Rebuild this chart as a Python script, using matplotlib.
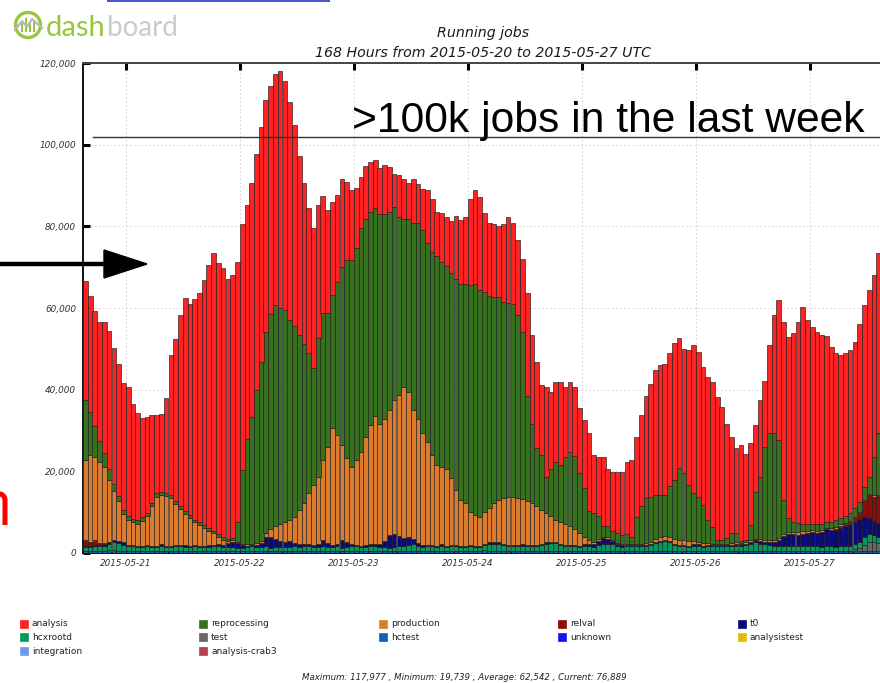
import matplotlib
matplotlib.use("Agg")
import matplotlib.pyplot as plt
import matplotlib.dates as mdates
from matplotlib.patches import Rectangle, Circle, Polygon, PathPatch
from matplotlib.path import Path
from matplotlib.ticker import MultipleLocator, FuncFormatter
from datetime import datetime, timedelta
import numpy as np

plt.rcParams["font.family"] = ["DejaVu Sans"]
plt.rcParams["font.style"] = "italic"

START = datetime(2015, 5, 20, 15)
HOURS = 168

# Hourly running jobs per activity, in thousands (one row of 24 values per line)
analysis = [
    29.2, 28.4, 28.3, 29.0, 32.0, 33.9, 33.3, 32.3, 31.2, 31.7, 28.0, 26.4, 24.2, 23.6, 21.5, 19.2, 19.0, 23.1, 34.3, 39.5, 46.7, 52.3, 51.9, 54.1,
    56.1, 59.9, 64.4, 68.0, 66.2, 65.7, 63.7, 64.4, 63.5, 60.2, 57.4, 57.3, 57.9, 57.6, 56.7, 55.9, 56.7, 57.877, 56.1, 53.5, 49.2, 43.8, 39.3, 35.7,
    34.4, 32.6, 28.7, 25.3, 22.8, 21.2, 21.4, 19.2, 17.2, 14.7, 12.5, 13.0, 12.2, 11.8, 11.4, 12.0, 11.0, 8.0, 10.3, 9.8, 8.8, 10.6, 9.6, 10.0,
    12.9, 12.8, 10.9, 11.9, 12.0, 12.8, 15.3, 15.7, 16.3, 21.0, 23.1, 22.8, 19.2, 17.9, 17.9, 17.4, 19.2, 20.9, 19.9, 18.5, 17.7, 25.2, 21.7, 21.2,
    17.1, 21.9, 19.0, 19.5, 20.4, 17.0, 17.1, 16.9, 15.9, 16.8, 18.9, 14.1, 14.5, 17.0, 13.9, 14.239, 15.1, 15.5, 17.7, 18.8, 19.8, 22.3, 25.0, 27.7,
    30.6, 31.8, 32.1, 32.5, 33.6, 31.9, 30.4, 33.1, 36.3, 35.5, 33.8, 35.1, 35.5, 34.9, 32.7, 28.0, 23.5, 20.6, 23.4, 21.0, 20.1, 16.3, 18.8, 16.2,
    21.6, 29.1, 34.2, 43.6, 44.3, 46.2, 49.3, 53.2, 50.0, 48.4, 47.2, 46.3, 45.5, 42.9, 40.9, 39.9, 39.9, 40.0, 40.7, 43.4, 44.6, 45.7, 44.5, 44.1,
]
reprocessing = [
    14.7, 10.5, 7.4, 5.3, 3.5, 2.5, 1.6, 1.2, 1.0, 1.0, 0.8, 0.8, 1.0, 0.8, 0.8, 0.8, 0.8, 0.8, 0.8, 0.8, 0.8, 0.7, 0.7, 0.7,
    0.7, 0.7, 0.7, 0.7, 0.7, 0.7, 0.6, 0.5, 5.0, 18.1, 25.7, 31.1, 37.5, 43.8, 49.4, 52.5, 54.1, 53.0, 51.8, 48.9, 46.9, 42.9, 39.0, 34.3,
    28.6, 33.9, 35.9, 32.7, 32.7, 37.5, 43.7, 48.5, 50.6, 51.8, 54.7, 53.2, 52.3, 50.9, 51.3, 50.3, 48.6, 47.3, 43.5, 41.3, 42.4, 45.9, 48.0, 49.8,
    48.7, 49.8, 51.2, 50.2, 49.6, 50.2, 51.8, 53.0, 53.8, 55.5, 56.6, 55.5, 54.0, 51.8, 50.4, 49.6, 48.0, 47.5, 47.2, 44.8, 41.0, 25.6, 19.4, 14.1,
    13.5, 8.9, 11.5, 14.4, 14.0, 16.6, 18.3, 17.9, 14.6, 11.8, 7.2, 7.2, 5.7, 2.7, 2.8, 2.3, 2.3, 2.1, 2.4, 1.7, 6.5, 9.2, 10.9, 11.0,
    10.8, 10.4, 10.1, 12.5, 14.4, 17.4, 16.3, 13.7, 11.6, 11.0, 9.4, 5.7, 4.1, 0.9, 0.9, 1.4, 2.6, 2.4, 0.5, 0.6, 3.8, 11.5, 15.3, 22.8,
    26.0, 26.0, 24.0, 8.4, 3.3, 2.5, 2.2, 1.7, 1.5, 1.4, 1.6, 1.5, 1.4, 1.5, 1.6, 1.5, 1.6, 1.8, 2.2, 2.5, 3.0, 4.3, 9.5, 15.1,
]
production = [
    19.5, 21.3, 20.4, 19.8, 18.5, 15.3, 12.1, 9.9, 6.9, 6.0, 5.7, 5.6, 6.1, 7.0, 9.8, 12.1, 12.1, 12.4, 11.6, 10.1, 8.8, 7.6, 6.7, 5.6,
    5.0, 4.4, 3.5, 2.8, 1.9, 1.3, 0.4, 0.4, 0.3, 0.3, 0.3, 0.3, 0.4, 0.6, 1.0, 2.1, 3.2, 4.1, 5.0, 5.2, 6.3, 8.4, 10.1, 12.5,
    14.6, 16.4, 19.6, 23.5, 28.6, 26.8, 23.3, 20.5, 18.9, 20.8, 23.0, 26.5, 29.2, 31.3, 29.4, 29.7, 30.7, 32.8, 34.5, 37.0, 35.7, 31.6, 30.2, 27.3,
    25.3, 22.0, 19.7, 19.0, 18.9, 16.4, 13.5, 11.3, 10.4, 8.1, 7.5, 7.1, 7.8, 8.5, 9.6, 10.4, 11.3, 11.9, 11.9, 11.5, 11.1, 10.9, 10.3, 9.6,
    8.3, 7.2, 6.2, 5.2, 5.3, 5.0, 4.6, 3.9, 3.1, 1.8, 1.0, 0.4, 0.4, 0.3, 0.3, 0.3, 0.3, 0.4, 0.3, 0.3, 0.3, 0.4, 0.5, 0.6,
    0.7, 0.8, 0.9, 1.0, 1.2, 1.3, 1.2, 1.1, 0.8, 0.7, 0.6, 0.5, 0.4, 0.3, 0.3, 0.3, 0.4, 0.5, 0.4, 0.3, 0.4, 0.4, 0.5, 0.5,
    0.5, 0.6, 0.6, 0.5, 0.5, 0.6, 0.7, 0.8, 0.6, 0.5, 0.6, 0.5, 0.4, 0.5, 0.4, 0.4, 0.3, 0.3, 0.3, 0.3, 0.3, 0.3, 0.3, 0.3,
]
relval = [1.6, 1.0, 1.2, 0.5, 0.3, 0.1] + [0.0] * 152 + [0.3, 0.5, 0.6, 0.8, 1.0, 1.5, 4.0, 5.5, 6.0, 6.5]
t0 = [
    0.2, 0.2, 0.3, 0.3, 0.4, 0.3, 0.4, 0.5, 0.6, 0.4, 0.3, 0.2, 0.2, 0.3, 0.3, 0.2, 0.3, 0.2, 0.3, 0.3, 0.4, 0.4, 0.3, 0.3,
    0.3, 0.3, 0.4, 0.4, 0.5, 0.6, 1.0, 1.4, 1.2, 0.6, 0.3, 0.3, 0.5, 1.0, 2.2, 2.6, 2.0, 1.6, 1.2, 1.5, 0.8, 0.6, 0.5, 0.5,
    0.6, 0.8, 1.5, 1.0, 0.5, 0.5, 1.8, 1.2, 0.5, 0.4, 0.4, 0.5, 0.5, 0.6, 0.8, 1.5, 3.0, 3.3, 2.6, 2.0, 1.8, 1.2, 0.8, 0.5,
    0.4, 0.4, 0.3, 0.3, 0.2, 0.3, 0.3, 0.2, 0.3, 0.3, 0.2, 0.3, 0.3, 0.4, 0.3, 0.3, 0.2, 0.3, 0.3, 0.2, 0.3, 0.3, 0.2, 0.3,
    0.3, 0.3, 0.3, 0.3, 0.3, 0.3, 0.3, 0.3, 0.3, 0.4, 0.6, 0.8, 1.0, 1.5, 1.2, 0.8, 0.5, 0.4, 0.3, 0.3, 0.3, 0.3, 0.3, 0.3,
    0.3, 0.3, 0.3, 0.3, 0.3, 0.3, 0.3, 0.3, 0.6, 0.3, 0.3, 0.3, 0.3, 0.3, 0.3, 0.3, 0.3, 0.3, 0.3, 0.3, 0.4, 0.5, 0.6, 0.6,
    0.8, 1.0, 1.5, 2.5, 3.0, 3.0, 2.8, 3.0, 3.2, 3.5, 3.2, 3.6, 4.0, 4.0, 4.2, 4.5, 4.8, 5.0, 5.2, 5.5, 5.0, 4.0, 3.5, 3.5,
]
hcxrootd = [
    1.0, 0.9, 1.2, 1.0, 1.3, 1.6, 1.9, 1.8, 1.5, 1.1, 1.0, 0.9, 1.0, 1.1, 0.9, 1.0, 1.2, 0.9, 1.0, 1.0, 1.1, 0.9, 1.0, 1.1,
    1.0, 0.9, 1.0, 1.1, 1.0, 0.9, 1.0, 0.8, 0.7, 0.8, 0.9, 1.2, 1.0, 0.9, 1.0, 0.8, 0.9, 0.8, 1.0, 0.9, 1.0, 1.0, 1.1, 1.0,
    0.9, 1.0, 1.1, 1.0, 0.9, 1.0, 0.8, 1.0, 1.2, 1.0, 0.9, 1.0, 1.0, 1.1, 1.0, 0.9, 0.8, 0.9, 1.0, 1.1, 1.5, 1.6, 1.2, 1.0,
    1.0, 1.1, 1.0, 1.2, 1.0, 1.1, 1.0, 0.9, 1.0, 1.1, 1.0, 1.0, 1.2, 1.6, 1.8, 1.7, 1.4, 1.1, 1.0, 1.2, 1.3, 1.0, 1.2, 1.1,
    1.3, 1.8, 2.0, 1.9, 1.4, 1.2, 1.0, 1.1, 1.0, 1.2, 1.1, 1.0, 1.4, 1.6, 1.8, 1.5, 1.2, 1.0, 1.1, 1.2, 1.1, 1.0, 1.2, 1.4,
    1.8, 2.2, 2.4, 2.0, 1.5, 1.2, 1.1, 1.0, 1.1, 1.2, 1.0, 1.1, 1.0, 1.2, 1.1, 1.0, 1.2, 1.3, 1.2, 1.5, 1.8, 2.0, 1.8, 1.6,
    1.4, 1.2, 1.1, 1.0, 1.2, 1.1, 1.0, 1.1, 1.2, 1.0, 1.1, 1.0, 1.2, 1.1, 1.0, 1.1, 1.2, 1.3, 1.4, 1.5, 1.8, 2.0, 1.6, 1.4,
]
test = [0.0] * 162 + [0.3, 0.8, 1.5, 2.0, 2.2, 2.0]
hctest = [
    0.5, 0.6, 0.5, 0.6, 0.5, 0.7, 0.8, 0.6, 0.5, 0.5, 0.6, 0.5, 0.5, 0.6, 0.5, 0.5, 0.6, 0.5, 0.5, 0.6, 0.5, 0.6, 0.5, 0.5,
    0.5, 0.6, 0.5, 0.5, 0.6, 0.5, 0.5, 0.6, 0.5, 0.5, 0.6, 0.5, 0.5, 0.5, 0.6, 0.5, 0.5, 0.6, 0.5, 0.5, 0.6, 0.5, 0.5, 0.6,
    0.5, 0.5, 0.6, 0.5, 0.5, 0.6, 0.5, 0.5, 0.5, 0.6, 0.5, 0.5, 0.6, 0.5, 0.5, 0.6, 0.5, 0.5, 0.6, 0.5, 0.5, 0.6, 0.5, 0.5,
    0.6, 0.5, 0.5, 0.6, 0.5, 0.5, 0.6, 0.5, 0.5, 0.6, 0.5, 0.5, 0.7, 0.6, 0.5, 0.6, 0.5, 0.5, 0.6, 0.5, 0.5, 0.6, 0.5, 0.5,
    0.6, 0.5, 0.5, 0.6, 0.5, 0.5, 0.6, 0.5, 0.5, 0.6, 0.5, 0.5, 0.6, 0.5, 0.5, 0.6, 0.5, 0.5, 0.6, 0.5, 0.5, 0.6, 0.5, 0.5,
    0.6, 0.5, 0.5, 0.6, 0.5, 0.5, 0.6, 0.5, 0.5, 0.6, 0.5, 0.5, 0.6, 0.5, 0.5, 0.6, 0.5, 0.5, 0.6, 0.5, 0.5, 0.6, 0.5, 0.5,
    0.6, 0.5, 0.5, 0.6, 0.5, 0.5, 0.6, 0.5, 0.5, 0.6, 0.5, 0.5, 0.6, 0.5, 0.5, 0.6, 0.5, 0.5, 0.6, 0.5, 0.5, 0.6, 0.5, 0.5,
]

legend_names = ["analysis", "reprocessing", "production", "relval", "t0",
                "hcxrootd", "test", "hctest", "unknown", "analysistest",
                "integration", "analysis-crab3"]
colors = {
    "analysis": "#fe2222", "reprocessing": "#37701f", "production": "#dc7b2c",
    "relval": "#8c0b0b", "t0": "#0b0b78", "hcxrootd": "#04995a",
    "test": "#676767", "hctest": "#1561ad", "unknown": "#1414f0",
    "analysistest": "#e9b90a", "integration": "#6b9bee", "analysis-crab3": "#b4404f",
}
# stacked from the bottom up (reverse of the legend order)
stack = [("hctest", hctest), ("test", test), ("hcxrootd", hcxrootd), ("t0", t0),
         ("relval", relval), ("production", production),
         ("reprocessing", reprocessing), ("analysis", analysis)]

W, H = 880, 683
fig = plt.figure(figsize=(W / 100, H / 100), dpi=100)
fig.patch.set_facecolor("white")
ax = fig.add_axes([83 / W, 1 - 553 / H, 798 / W, 490 / H])

hours = [START + timedelta(hours=h) for h in range(HOURS)]
xpos = mdates.date2num(hours)
bottom = np.zeros(HOURS)
for name, vals in stack:
    v = np.asarray(vals, dtype=float) * 1000.0
    ax.bar(xpos, v, width=1 / 24, bottom=bottom, align="edge",
           color=colors[name], edgecolor="#1c1c1c", linewidth=0.45, zorder=3)
    bottom += v

ax.set_xlim(mdates.date2num(START), mdates.date2num(START + timedelta(hours=HOURS)))
ax.set_ylim(0, 120000)
ax.yaxis.set_major_locator(MultipleLocator(20000))
ax.yaxis.set_major_formatter(FuncFormatter(lambda v, p: f"{v:,.0f}"))
ax.xaxis.set_major_locator(mdates.DayLocator())
ax.xaxis.set_major_formatter(mdates.DateFormatter("%Y-%m-%d"))

ax.grid(True, color="#cfcfcf", linestyle=(0, (1.5, 2.5)), linewidth=0.7)
ax.set_axisbelow(True)
ax.tick_params(axis="y", direction="in", length=5, width=2.2, left=True,
               right=False, labelsize=6.4, labelcolor="#333333", pad=5)
ax.tick_params(axis="x", direction="in", length=5, width=2.2, bottom=False,
               top=True, labelbottom=True, labelsize=6.4,
               labelcolor="#333333", pad=4)
for side in ("left", "bottom"):
    ax.spines[side].set_linewidth(1.4)
    ax.spines[side].set_color("#111111")
ax.spines["top"].set_linewidth(1.4)
ax.spines["top"].set_color("#444444")
ax.spines["right"].set_visible(False)

# overlay in pixel coordinates for titles, legend and annotations
ov = fig.add_axes([0, 0, 1, 1], zorder=10)
ov.set_xlim(0, W)
ov.set_ylim(H, 0)
ov.axis("off")
ov.patch.set_alpha(0)

ov.text(483, 33, "Running jobs", ha="center", va="center", fontsize=10.2, color="#1a1a1a")
ov.text(483, 53, "168 Hours from 2015-05-20 to 2015-05-27 UTC", ha="center",
        va="center", fontsize=10.2, color="#1a1a1a")

col_x = [20, 199, 379, 558, 738]
row_y = [624, 637, 651]
for k, name in enumerate(legend_names):
    cx, cy = col_x[k % 5], row_y[k // 5]
    ov.add_patch(Rectangle((cx, cy - 4), 8, 8, facecolor=colors[name],
                           edgecolor=colors[name], linewidth=0.5))
    ov.text(cx + 12, cy, name, ha="left", va="center", fontsize=6.5,
            style="normal", color="#222222")

ov.text(464, 678, "Maximum: 117,977 , Minimum: 19,739 , Average: 62,542 , Current: 76,889",
        ha="center", va="center", fontsize=6.2, color="#222222")

# headline annotation with its reference line
ov.plot([93, 880], [137, 137], color="#333333", linewidth=1.0)
ov.text(352, 132, ">100k jobs in the last week", ha="left", va="baseline",
        fontsize=30.7, style="normal", family="Liberation Sans", color="black")

# arrow from the left edge
ov.plot([0, 108], [264, 264], color="black", linewidth=3.2, solid_capstyle="butt")
ov.add_patch(Polygon([[104, 250], [147, 264], [104, 278]], closed=True,
                     facecolor="black", edgecolor="black"))

# red stroke cut by the left edge (shoulder and stem of a large glyph)
stroke = Path([(-10, 500), (-4, 492), (3, 492), (5, 499), (5, 525)],
              [Path.MOVETO, Path.CURVE4, Path.CURVE4, Path.CURVE4, Path.LINETO])
ov.add_patch(PathPatch(stroke, facecolor="none", edgecolor="#ff0000",
                       linewidth=3.6, capstyle="butt"))

# thin header strip
ov.add_patch(Rectangle((107, 0), 223, 2.2, facecolor="#4a58d0", edgecolor="none"))

# dashboard logo
green = "#98c63c"
ov.add_patch(Circle((28, 25), 12.5, facecolor="none", edgecolor=green, linewidth=2.4))
for bx, bh in [(22, 10), (26, 14), (30, 9), (34, 12)]:
    ov.add_patch(Rectangle((bx - 1, 32 - bh), 2.2, bh, facecolor=green, edgecolor="none"))
ov.plot([15, 22, 27, 32, 42], [30, 21, 27, 19, 28], color="#b8b8b8", linewidth=1.6)
ov.text(46, 36, "dash", ha="left", va="baseline", fontsize=21, style="normal",
        family="Lato", color=green)
ov.text(107, 36, "board", ha="left", va="baseline", fontsize=20, style="normal",
        family="Lato", color="#cbcbcb")

fig.savefig("out.png", dpi=100, facecolor="white")
